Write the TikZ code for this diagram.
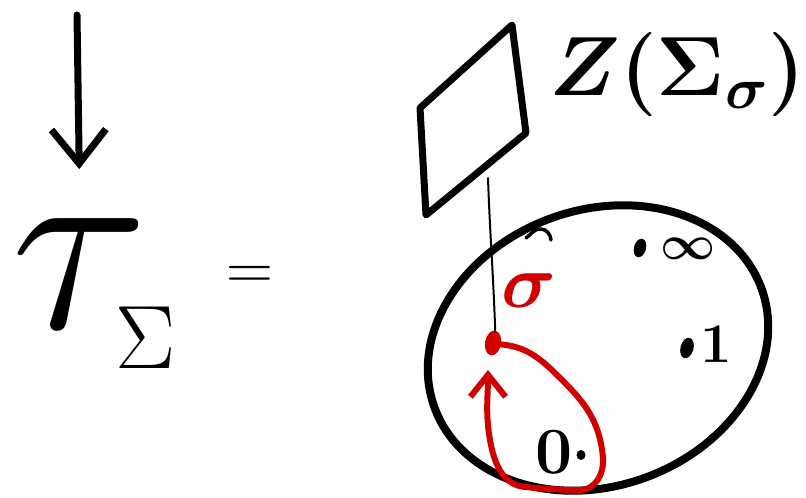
\documentclass[tikz,border=0pt]{standalone}
\usepackage{fix-cm}
\usetikzlibrary{arrows.meta,shapes.geometric}
\definecolor{InkRed}{RGB}{208,0,0}
\tikzset{
  pen/.style={line width=7pt,line cap=round,line join=round},
  thinpen/.style={line width=2pt,line cap=round},
  redpen/.style={pen,InkRed,line width=6pt},
  marked/.style={ellipse,fill=black,inner sep=0pt},
  tag/.style={inner sep=0pt,outer sep=0pt,font=\boldmath},
  barb/.style={-{Straight Barb[length=#1,width=1.6*#1]}}
}

\begin{document}
\begin{tikzpicture}[x=1pt,y=1pt]
  \useasboundingbox (0,0) rectangle (806,498);
  % left hand side
  \node[tag,font=\fontsize{255}{255}\selectfont] (tau) at (80,224) {$\tau$};
  \node[tag,font=\fontsize{90}{90}\selectfont] (sub) at (146,160) {$\Sigma$};
  \node[tag,font=\fontsize{65}{65}\selectfont] (eq) at (250,220) {$=$};
  \coordinate (quill) at (77,483);
  \draw[pen,barb=34pt,shorten >=50pt] (quill) -- (tau.north);
  % the sphere with marked points
  \node[draw,ellipse,line width=8pt,inner sep=0pt,minimum width=348pt,
    minimum height=276pt,rotate=20] (sphere) at (598,150) {};
  \draw[pen,line width=3.5pt] (526,260) to[out=35,in=175] (541,269)
    to[out=-5,in=95] (551,258);
  \node[marked,minimum width=12pt,minimum height=19pt,rotate=-15] (inf) at (640,250) {};
  \node[tag,font=\fontsize{48}{48}\selectfont\boldmath] (inflbl) at (688,249) {$\infty$};
  \node[marked,minimum width=13pt,minimum height=21pt,rotate=-15] (one) at (687,150) {};
  \node[tag,font=\fontsize{56}{56}\selectfont\boldmath] (onelbl) at (716,154) {$1$};
  \node[marked,minimum width=9pt,minimum height=10pt] (zero) at (581,43) {};
  \node[tag,font=\fontsize{66}{66}\selectfont\boldmath] (zerolbl) at (554,46) {$0$};
  % base point and loop
  \node[marked,fill=InkRed,minimum width=16pt,minimum height=25pt,rotate=-10]
    (basept) at (493,155) {};
  \node[tag,text=InkRed,font=\fontsize{76}{76}\selectfont\boldmath] (sigma) at (529,207) {$\sigma$};
  \draw[redpen,barb=22pt] (basept.east) to[out=-5,in=135] (565,115)
    to[out=-45,in=95] (603,40) to[out=-85,in=0] (580,8)
    to[out=180,in=-5] (525,11) to[out=175,in=-80] (490,58)
    to[out=100,in=-90] (488,128);
  % fibre over the base point
  \draw[pen] (420,390) -- (512,473) -- (526,365) -- (426,283) -- cycle;
  \node[tag,font=\fontsize{84}{84}\selectfont\boldmath] (fibre) at (677,423) {$Z(\Sigma_\sigma)$};
  \coordinate (fibrefoot) at (488,320);
  \draw[thinpen] (fibrefoot) to[out=-88,in=92] (basept.north);
\end{tikzpicture}
\end{document}
